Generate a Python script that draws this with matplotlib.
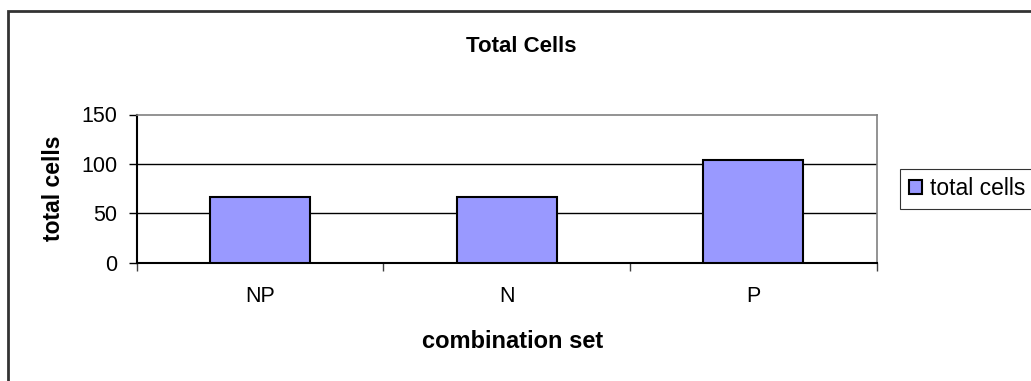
import numpy as np
import matplotlib
matplotlib.use("Agg")
import matplotlib.pyplot as plt
from matplotlib.patches import Rectangle

# ==== Data ====
categories = ["NP", "N", "P"]
total_cells = [67, 67, 104]
y_ticks = [0, 50, 100, 150]

plt.rcParams.update({'font.family': ['Liberation Sans', 'DejaVu Sans'],
                     'font.size': 15.5})

W, H = 1031, 381
fig = plt.figure(figsize=(W/100, H/100), dpi=100)
fig.patch.set_facecolor('white')

# axes placed in pixel terms
left, right, top, bottom = 136.7, 876.7, 114.5, 262.7
ax = fig.add_axes([left/W, 1 - bottom/H, (right-left)/W, (bottom-top)/H])

x = np.arange(len(categories))
bars = ax.bar(x, total_cells, width=0.405, color='#9999FF',
              edgecolor='black', linewidth=1.5, label='total cells', zorder=3)

ax.set_xlim(-0.5, len(categories) - 0.5)
ax.set_ylim(0, 150)
ax.set_yticks(y_ticks)
for yv in y_ticks[1:-1]:
    ax.axhline(yv, color='black', linewidth=1, zorder=1)

# category ticks at boundaries, labels at centres
ax.set_xticks(np.arange(-0.5, len(categories)), minor=False)
ax.set_xticklabels([])
ax.set_xticks(x, minor=True)
ax.set_xticklabels(categories, minor=True)
ax.tick_params(axis='x', which='major', direction='out', length=6,
               width=1, color='#404040')
ax.tick_params(axis='x', which='minor', length=0, pad=17)
ax.tick_params(axis='y', direction='out', length=6, width=1, pad=8)

for s in ['top', 'right']:
    ax.spines[s].set_color('#808080')
    ax.spines[s].set_linewidth(1.2)
for s in ['left', 'bottom']:
    ax.spines[s].set_color('black')
    ax.spines[s].set_linewidth(1.5)

ax.set_ylabel('total cells', fontweight='bold', fontsize=16.5)
ax.yaxis.set_label_coords(-(left - 53)/(right - left), 0.5)
ax.yaxis.label.set_va('center')
fig.text(521/W, 1 - 47/H, 'Total Cells', ha='center',
         va='center', fontweight='bold', fontsize=16)
fig.text(513/W, 1 - 342/H, 'combination set',
         ha='center', va='center', fontweight='bold', fontsize=17)

# legend
leg = fig.legend(handles=[bars], labels=['total cells'],
                 loc='lower left', bbox_to_anchor=(900/W, 1 - 209/H),
                 frameon=True, fancybox=False, fontsize=16.5,
                 handlelength=0.6, handleheight=0.6, handletextpad=0.35,
                 borderpad=0.38, borderaxespad=0)
leg.get_frame().set_edgecolor('black')
leg.get_frame().set_linewidth(0.8)

# chart area border
fig.patches.append(Rectangle((8/W, -0.05), 1.2, 1.05 - 11/H,
                             transform=fig.transFigure, fill=False,
                             edgecolor='#333333', linewidth=2))

fig.savefig('out.png', dpi=100, facecolor='white')
